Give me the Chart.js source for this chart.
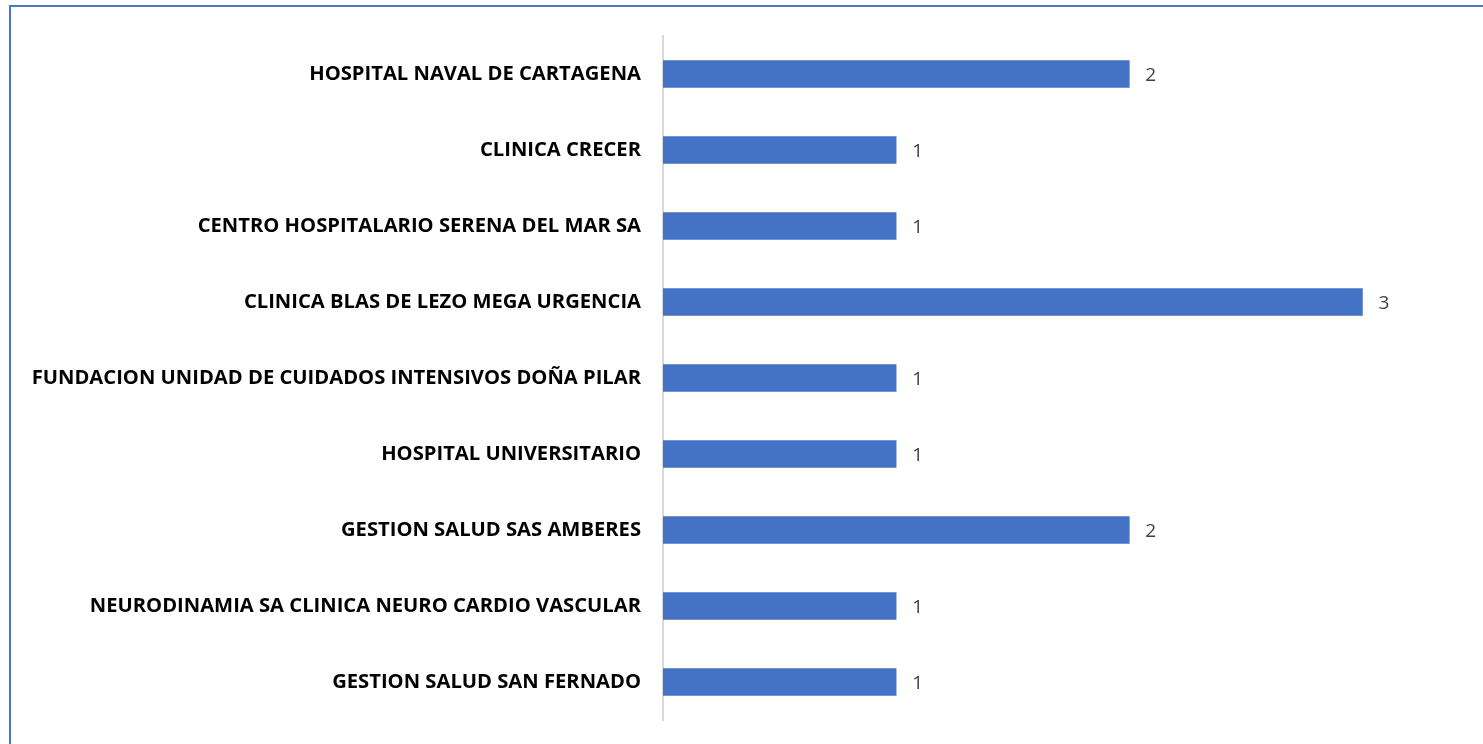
<!DOCTYPE html>
<html>
<head>
<meta charset="utf-8">
<script src="https://cdn.jsdelivr.net/npm/chart.js@4.4.0/dist/chart.umd.min.js"></script>
<style>
  html, body { margin: 0; padding: 0; background: #ffffff; overflow: hidden; }
  #wrap { position: relative; width: 1483px; height: 744px; }
  #frame { position: absolute; left: 9px; top: 5px; width: 1490px; height: 760px; border: 2px solid #4a78cc; box-sizing: border-box; pointer-events: none; }
  canvas { position: absolute; left: 0; top: 0; }
</style>
</head>
<body>
<div id="wrap">
  <canvas id="c" width="1483" height="744"></canvas>
  <div id="frame"></div>
</div>
<script>
const categories = [
  "HOSPITAL NAVAL DE CARTAGENA",
  "CLINICA CRECER",
  "CENTRO HOSPITALARIO SERENA DEL MAR SA",
  "CLINICA BLAS DE LEZO MEGA URGENCIA",
  "FUNDACION UNIDAD DE CUIDADOS INTENSIVOS DOÑA PILAR",
  "HOSPITAL UNIVERSITARIO",
  "GESTION SALUD SAS AMBERES",
  "NEURODINAMIA SA CLINICA NEURO CARDIO VASCULAR",
  "GESTION SALUD SAN FERNADO"
];
const values = [2, 1, 1, 3, 1, 1, 2, 1, 1];

const dataLabels = {
  id: 'dataLabels',
  afterDatasetsDraw(chart) {
    const ctx = chart.ctx;
    const meta = chart.getDatasetMeta(0);
    ctx.save();
    ctx.font = '19px "Open Sans", sans-serif';
    ctx.fillStyle = '#404040';
    ctx.textAlign = 'left';
    ctx.textBaseline = 'middle';
    meta.data.forEach((bar, i) => {
      ctx.fillText(String(values[i]), bar.x + 16, bar.y + 2);
    });
    ctx.restore();
  }
};

new Chart(document.getElementById('c'), {
  type: 'bar',
  data: {
    labels: categories,
    datasets: [{
      data: values,
      backgroundColor: '#4472C4',
      borderWidth: 0,
      barThickness: 27
    }]
  },
  options: {
    indexAxis: 'y',
    responsive: false,
    animation: false,
    layout: { padding: { left: 0, right: 4, top: 36, bottom: 24 } },
    plugins: { legend: { display: false }, tooltip: { enabled: false } },
    scales: {
      x: {
        display: false,
        min: 0,
        max: 3.5
      },
      y: {
        grid: { display: false, drawTicks: false },
        border: { display: true, color: '#d9d9d9', width: 2 },
        ticks: {
          color: '#000000',
          padding: 22,
          font: { family: '"Open Sans"', weight: 'bold', size: 20.2 }
        },
        afterFit(scale) {
          scale.width = 663;
          scale.paddingTop = 0;
          scale.paddingBottom = 0;
        }
      }
    }
  },
  plugins: [dataLabels]
});
</script>
</body>
</html>
